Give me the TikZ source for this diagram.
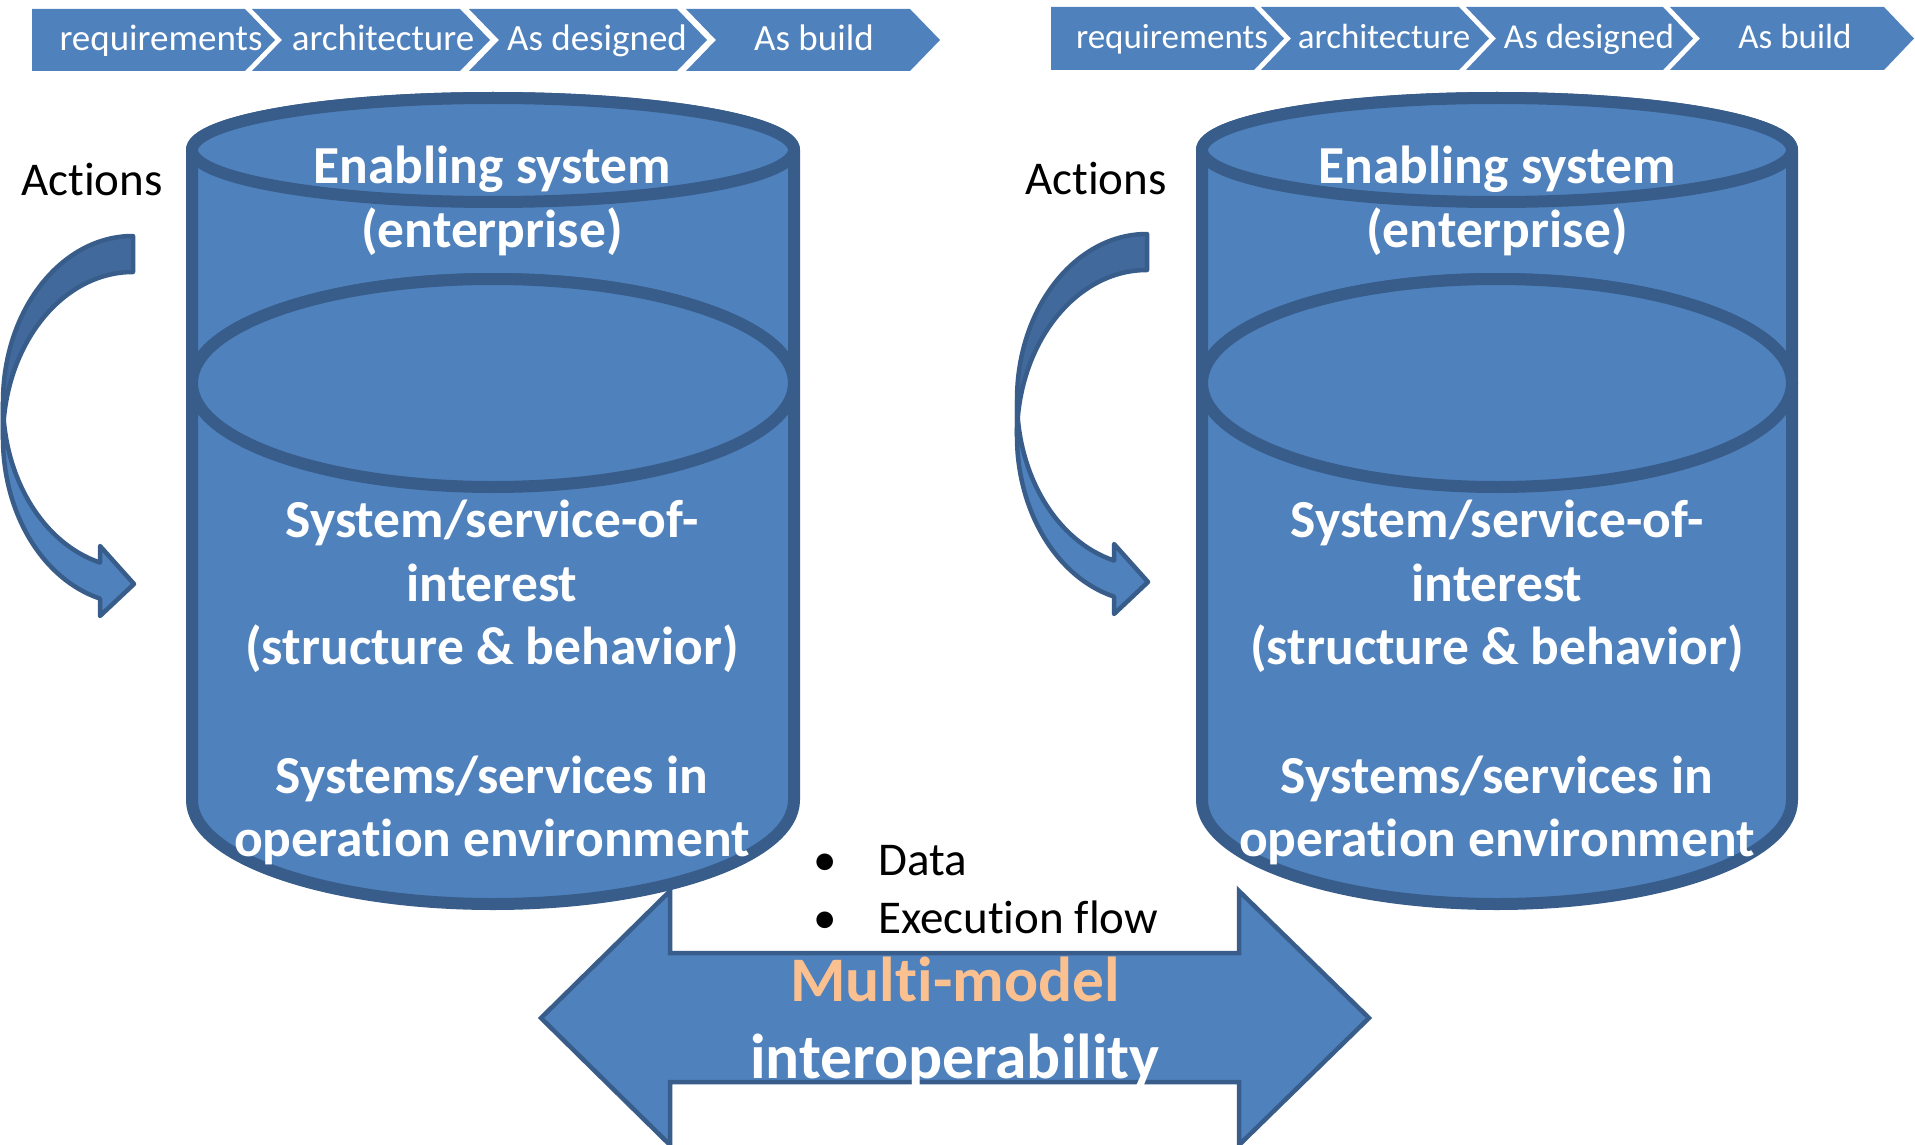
\documentclass[tikz,border=0pt]{standalone}
\usepackage{fontspec}
\setmainfont{Carlito}[Ligatures={NoCommon,NoContextual}]
\definecolor{fillblue}{HTML}{4F81BD}
\definecolor{edgeblue}{HTML}{385D8A}
\definecolor{backblue}{HTML}{41699C}
\definecolor{peach}{HTML}{FAC090}
\tikzset{
  chev/.style={fill=fillblue, draw=none},
  chevtext/.style={text=white, font=\fontsize{37}{44}\selectfont, inner sep=0pt, anchor=base},
  chevtextr/.style={text=white, font=\fontsize{35}{42}\selectfont, inner sep=0pt, anchor=base},
  can/.style={fill=fillblue, draw=edgeblue, line width=12pt, line join=round},
  cantext/.style={text=white, font=\bfseries\fontsize{53.5}{64}\selectfont, inner sep=0pt, anchor=base},
  curvback/.style={fill=backblue, draw=edgeblue, line width=4.5pt, line join=round},
  curvfront/.style={fill=fillblue, draw=edgeblue, line width=4.5pt, line join=round},
  dblarrow/.style={fill=fillblue, draw=edgeblue, line width=4.5pt, line join=miter},
  plaintext/.style={text=black, font=\fontsize{47}{56}\selectfont, inner sep=0pt, anchor=base west},
  bullettext/.style={text=black, font=\fontsize{47}{56}\selectfont, inner sep=0pt, anchor=base},
  mmtext/.style={font=\bfseries\fontsize{63.5}{76}\selectfont, inner sep=0pt, anchor=base},
}
\newcommand\curvarr[1]{%
\begin{scope}[shift={#1}]
 \path[curvback] (133,236) arc[start angle=-90, end angle=-180, x radius=130, y radius=166]
   -- (3,438) arc[start angle=180, end angle=270, x radius=130, y radius=166] -- cycle;
 \path[curvfront] (3,402) arc[start angle=180, end angle=104.7, x radius=130, y radius=166]
   -- (100,546) -- (134,584) -- (100,616) -- (100,598.6)
   arc[start angle=104.7, end angle=180, x radius=130, y radius=166] -- cycle;
\end{scope}}
\newcommand\twocans[2]{% #1 = centre x, #2 = x radius
 \path[can] ({#1-#2},150) -- ({#1-#2},383) arc[start angle=180, end angle=0, x radius=#2, y radius=52]
   -- ({#1+#2},150) arc[start angle=0, end angle=-180, x radius=#2, y radius=52] -- cycle;
 \path[can] (#1,150) ellipse[x radius=#2, y radius=52];
 \path[can] ({#1-#2},383) -- ({#1-#2},800) arc[start angle=180, end angle=0, x radius=#2, y radius=104]
   -- ({#1+#2},383) arc[start angle=0, end angle=-180, x radius=#2, y radius=104] -- cycle;
 \path[can] (#1,383) ellipse[x radius=#2, y radius=104];
}
\begin{document}
\begin{tikzpicture}[x=1pt,y=-1pt]
\path[use as bounding box, fill=white] (0,0) rectangle (1915,1145);
\clip (0,0) rectangle (1915,1145);

% left chevron bar
\fill[chev] (32,9) -- (245,9) -- (275,40) -- (245,71) -- (32,71) -- cycle;
\fill[chev] (252,9) -- (460,9) -- (490,40) -- (460,71) -- (252,71) -- (282,40) -- cycle;
\fill[chev] (469,9) -- (677,9) -- (707,40) -- (677,71) -- (469,71) -- (499,40) -- cycle;
\fill[chev] (686,9) -- (910,9) -- (940,40) -- (910,71) -- (686,71) -- (716,40) -- cycle;
\node[chevtext] (lreq) at (161,51) {requirements};
\node[chevtext] (larc) at (383,51) {architecture};
\node[chevtext] (ldes) at (597,51) {As designed};
\node[chevtext] (lbld) at (814,51) {As build};

% right chevron bar
\fill[chev] (1051,7) -- (1254,7) -- (1284,38.5) -- (1254,70) -- (1051,70) -- cycle;
\fill[chev] (1261,7) -- (1459,7) -- (1489,38.5) -- (1459,70) -- (1261,70) -- (1291,38.5) -- cycle;
\fill[chev] (1466,7) -- (1663,7) -- (1693,38.5) -- (1663,70) -- (1466,70) -- (1496,38.5) -- cycle;
\fill[chev] (1670,7) -- (1884,7) -- (1914,38.5) -- (1884,70) -- (1670,70) -- (1700,38.5) -- cycle;
\node[chevtextr] (rreq) at (1172,49) {requirements};
\node[chevtextr] (rarc) at (1384,49) {architecture};
\node[chevtextr] (rdes) at (1589,49) {As designed};
\node[chevtextr] (rbld) at (1795,49) {As build};

% cylinders
\twocans{493}{301}
\twocans{1497}{295}

% curved arrows
\curvarr{(0,0)}
\curvarr{(1014,-2)}

% double arrow
\path[dblarrow] (541,1018) -- (670,891) -- (670,953) -- (1239,953) -- (1239,891) -- (1369,1018)
  -- (1239,1145) -- (1239,1082) -- (670,1082) -- (670,1145) -- cycle;

% cylinder texts, left
\node[cantext] (le1) at (492,184) {Enabling system};
\node[cantext] (le2) at (492,247) {(enterprise)};
\node[cantext] (ls1) at (492,537) {System/service-of-};
\node[cantext] (ls2) at (492,601) {interest};
\node[cantext] (ls3) at (492,664) {(structure \& behavior)};
\node[cantext] (ls4) at (492,793) {Systems/services in};
\node[cantext] (ls5) at (492,856) {operation environment};

% cylinder texts, right
\node[cantext] (re1) at (1497,184) {Enabling system};
\node[cantext] (re2) at (1497,247) {(enterprise)};
\node[cantext] (rs1) at (1497,537) {System/service-of-};
\node[cantext] (rs2) at (1497,601) {interest};
\node[cantext] (rs3) at (1497,664) {(structure \& behavior)};
\node[cantext] (rs4) at (1497,793) {Systems/services in};
\node[cantext] (rs5) at (1497,856) {operation environment};

% actions
\node[plaintext] (lact) at (21,195) {Actions};
\node[plaintext] (ract) at (1025,194) {Actions};

% bullets
\node[bullettext] (bul1) at (825,875) {•};
\node[plaintext] (data) at (878,875) {Data};
\node[bullettext] (bul2) at (825,933) {•};
\node[plaintext] (exec) at (878,933) {Execution flow};

% multi-model
\node[mmtext, text=peach] (mm1) at (955,1001) {Multi-model};
\node[mmtext, text=white] (mm2) at (955,1078) {interoperability};
\end{tikzpicture}
\end{document}
